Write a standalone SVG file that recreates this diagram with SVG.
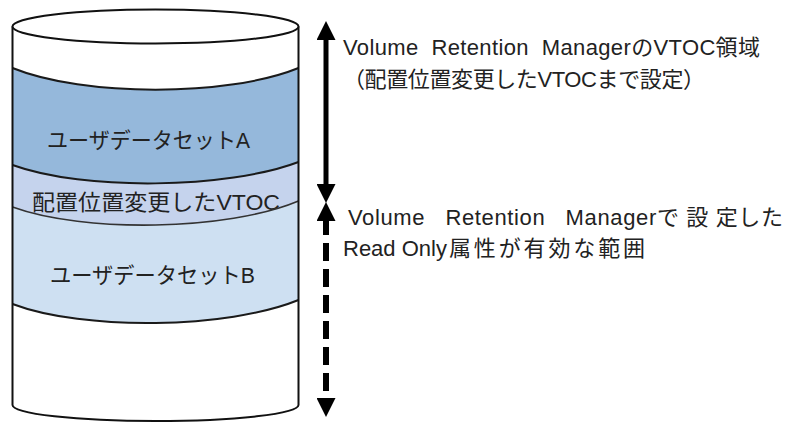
<svg xmlns="http://www.w3.org/2000/svg" width="789" height="422" viewBox="0 0 789 422">
<style>
text{font-family:"Liberation Sans","Noto Sans CJK JP",sans-serif;fill:#222;}
.in{font-size:22px;}
.lb{font-size:22px;white-space:pre;}
.edge{fill:none;stroke:#111;stroke-width:2;}
.bd{fill:none;stroke:#1a1a1a;stroke-width:2;}
.shaft{fill:none;stroke:#000;}
</style>
<defs>
<marker id="head" markerUnits="userSpaceOnUse" markerWidth="19" markerHeight="19" viewBox="0 0 19 19" refX="0" refY="9.5" orient="auto-start-reverse">
<path d="M0,0 L19,9.5 L0,19 Z" fill="#000"/>
</marker>
</defs>
<g id="volume">
<path d="M12.5,26.5 L12.5,405 A143,16 0 0 0 298.5,405 L298.5,26.5 Z" fill="#fff"/>
</g>
<g id="dataset-a">
<path d="M12.5,68 C84,97 227,97 298.5,68 L298.5,162 C227,189 84,191 12.5,165 Z" fill="#95B8DB"/>
<path class="bd" d="M12.5,68 C84,97 227,97 298.5,68"/>
<text class="in" x="47" y="148" textLength="203" lengthAdjust="spacingAndGlyphs">ユーザデータセットA</text>
</g>
<g id="vtoc">
<path d="M12.5,165 C84,191 227,189 298.5,162 L298.5,201 C227,231 84,233 12.5,207 Z" fill="#C5D3ED"/>
<path class="bd" d="M298.5,162 C227,189 84,191 12.5,165"/>
<text class="in" x="32" y="210" textLength="248" lengthAdjust="spacingAndGlyphs">配置位置変更したVTOC</text>
</g>
<g id="dataset-b">
<path d="M12.5,207 C84,233 227,231 298.5,201 L298.5,300 C227,329 84,331 12.5,304 Z" fill="#CEE0F2"/>
<path d="M12.5,207 C84,233 227,231 298.5,201" fill="none" stroke="#333" stroke-width="1.6"/>
<path class="bd" d="M298.5,300 C227,329 84,331 12.5,304"/>
<text class="in" x="50" y="283" textLength="205" lengthAdjust="spacingAndGlyphs">ユーザデータセットB</text>
</g>
<g id="volume-outline">
<path class="edge" d="M12.5,26.5 L12.5,405 A143,16 0 0 0 298.5,405 L298.5,26.5"/>
<ellipse cx="155.5" cy="26.5" rx="143" ry="17" fill="#fff" stroke="#111" stroke-width="2"/>
</g>
<g id="connectors">
<line class="shaft" x1="326" y1="40" x2="326" y2="184" stroke-width="5" marker-start="url(#head)" marker-end="url(#head)"/>
<line class="shaft" x1="326" y1="221" x2="326" y2="398" stroke-width="6" stroke-dasharray="18 8" stroke-dashoffset="4" marker-start="url(#head)" marker-end="url(#head)"/>
</g>
<g id="label-vtoc-area">
<text class="lb" x="343" y="55" textLength="417" lengthAdjust="spacing">Volume  Retention  ManagerのVTOC領域</text>
<text class="lb" x="343" y="87" textLength="362" lengthAdjust="spacing">（配置位置変更したVTOCまで設定）</text>
</g>
<g id="label-readonly">
<text class="lb" x="348" y="225" textLength="435" lengthAdjust="spacing">Volume   Retention   Managerで 設 定した</text>
<text class="lb" y="256"><tspan x="343">Read Only</tspan><tspan x="449" textLength="196" lengthAdjust="spacing">属性が有効な範囲</tspan></text>
</g>
</svg>
